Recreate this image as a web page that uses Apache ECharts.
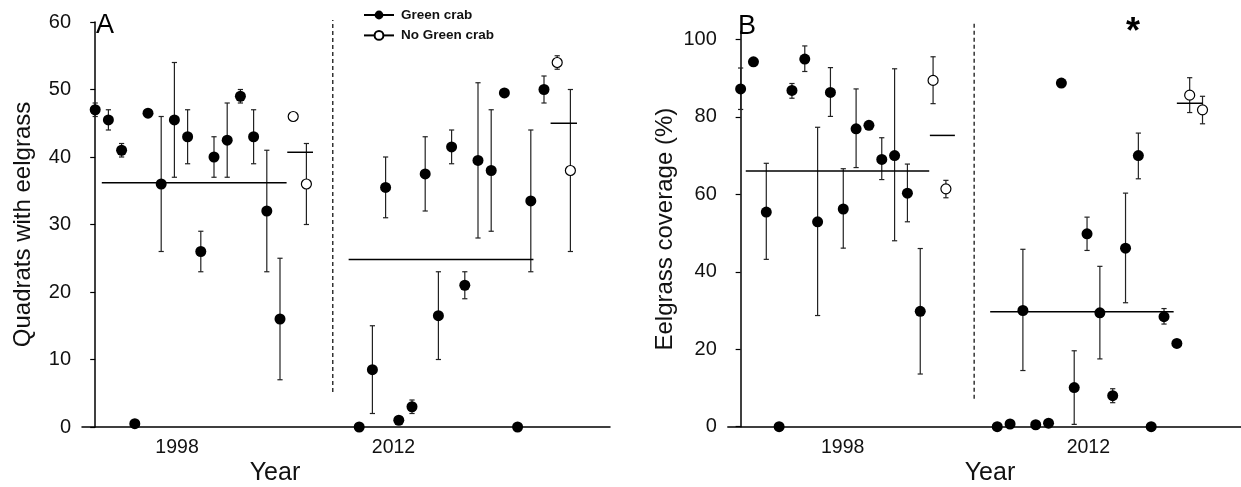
<!DOCTYPE html>
<html><head><meta charset="utf-8">
<script src="https://cdn.jsdelivr.net/npm/echarts@6/dist/echarts.min.js"></script>
<style>html,body{margin:0;padding:0;background:#fff}#c{width:1241px;height:487px}</style>
</head><body><div id="c"></div>
<script>
// ---------- DATA ----------
const years = ['1998', '2012'];
const seriesNames = ['Green crab', 'No Green crab'];

// Panel A: Quadrats with eelgrass
const A_1998_green    = [47, 45.5, 41, 0.5, 46.5, 36, 45.5, 43, 26, 40, 42.5, 49, 43, 32, 16];
const A_1998_green_lo = [46, 44, 40, null, null, 26, 37, 39, 23, 37, 37, 48, 39, 23, 7];
const A_1998_green_hi = [48, 47, 42, null, null, 46, 54, 47, 29, 43, 48, 50, 47, 41, 25];
const A_1998_open     = [46, 36];
const A_1998_open_lo  = [null, 30];
const A_1998_open_hi  = [null, 42];
const A_2012_green    = [0, 8.5, 35.5, 1, 3, 37.5, 16.5, 41.5, 21, 39.5, 38, 49.5, 0, 33.5, 50];
const A_2012_green_lo = [null, 2, 31, null, 2, 32, 10, 39, 19, 28, 29, null, null, 23, 48];
const A_2012_green_hi = [null, 15, 40, null, 4, 43, 23, 44, 23, 51, 47, null, null, 44, 52];
const A_2012_open     = [54, 38];
const A_2012_open_lo  = [53, 26];
const A_2012_open_hi  = [55, 50];
const A_means = [36.2, 40.7, 24.8, 45.0]; // 1998 green, 1998 no crab, 2012 green, 2012 no crab

// Panel B: Eelgrass coverage (%)
const B_1998_green    = [87.2, 94.2, 55.4, 0, 86.8, 94.9, 52.9, 86.3, 56.2, 76.9, 77.8, 69, 70, 60.3, 29.8];
const B_1998_green_lo = [81.9, null, 43.2, null, 84.8, 91.7, 28.7, 80.1, 46.1, 66.9, null, 63.8, 48, 52.9, 13.6];
const B_1998_green_hi = [92.6, null, 68, null, 88.6, 98.3, 77.3, 92.7, 66.6, 87.2, null, 74.6, 92.4, 67.8, 46];
const B_1998_open     = [89.4, 61.4];
const B_1998_open_lo  = [83.4, 59.1];
const B_1998_open_hi  = [95.5, 63.6];
const B_2012_green    = [0, 0.7, 30, 0.5, 0.9, 88.7, 10.1, 49.8, 29.4, 8, 46.1, 70, 0, 28.4, 21.5];
const B_2012_green_lo = [null, null, 14.5, null, null, null, 0.6, 45.5, 17.5, 6.2, 32, 64, null, 26.5, null];
const B_2012_green_hi = [null, null, 45.8, null, null, null, 19.6, 54.1, 41.4, 9.8, 60.3, 75.8, null, 30.5, null];
const B_2012_open     = [85.6, 81.8];
const B_2012_open_lo  = [81.1, 78.2];
const B_2012_open_hi  = [90.1, 85.3];
const B_means = [66.0, 75.2, 29.7, 83.5];

const yTicksA = [0, 10, 20, 30, 40, 50, 60];
const yTicksB = [0, 20, 40, 60, 80, 100];

// ---------- LAYOUT (site slots along x) ----------
const SLOT = {g1998: 0, o1998: 15, g2012: 20, o2012: 35};
const layoutA = {
  yearPos: [6.2, 22.6],
  meanSpan: [[0.5, 14.5], [14.55, 16.5], [19.2, 33.2], [34.5, 36.5]],
  divider: [18, 5.2, 60.3]
};
const layoutB = {
  yearPos: [7.95, 27.1],
  meanSpan: [[0.4, 14.7], [14.75, 16.7], [19.45, 33.75], [34.0, 36.0]],
  divider: [18.2, 7.2, 104.6]
};

const FONT = 'Liberation Sans, Arial, Helvetica, sans-serif';

function pts(vals, off) { return vals.map((v, i) => [off + i, v]); }
function errs(lo, hi, off) {
  const out = [];
  lo.forEach((l, i) => { if (l != null && hi[i] != null) out.push([off + i, l, hi[i]]); });
  return out;
}

function errRender(params, api) {
  const x = api.value(0);
  const p1 = api.coord([x, api.value(1)]);
  const p2 = api.coord([x, api.value(2)]);
  const w = 2.6;
  const st = {stroke: '#222', lineWidth: 1.2};
  return {type: 'group', children: [
    {type: 'line', shape: {x1: p1[0], y1: p1[1], x2: p2[0], y2: p2[1]}, style: st},
    {type: 'line', shape: {x1: p1[0] - w, y1: p1[1], x2: p1[0] + w, y2: p1[1]}, style: st},
    {type: 'line', shape: {x1: p2[0] - w, y1: p2[1], x2: p2[0] + w, y2: p2[1]}, style: st}
  ]};
}
function meanRender(params, api) {
  const a = api.coord([api.value(0), api.value(2)]);
  const b = api.coord([api.value(1), api.value(2)]);
  return {type: 'line', shape: {x1: a[0], y1: a[1], x2: b[0], y2: b[1]}, style: {stroke: '#000', lineWidth: 1.5}};
}
function divRender(params, api) {
  const a = api.coord([api.value(0), api.value(1)]);
  const b = api.coord([api.value(0), api.value(2)]);
  return {type: 'line', shape: {x1: a[0], y1: a[1], x2: b[0], y2: b[1]}, style: {stroke: '#000', lineWidth: 1.2, lineDash: [4, 3]}};
}

function panelSeries(gi, d, lay) {
  const means = d.means.map((m, k) => [lay.meanSpan[k][0], lay.meanSpan[k][1], m]);
  const errData = [].concat(
    errs(d.g98lo, d.g98hi, SLOT.g1998), errs(d.o98lo, d.o98hi, SLOT.o1998),
    errs(d.g12lo, d.g12hi, SLOT.g2012), errs(d.o12lo, d.o12hi, SLOT.o2012));
  return [
    {type: 'custom', xAxisIndex: gi, yAxisIndex: gi, renderItem: divRender, data: [lay.divider], z: 1, silent: true},
    {type: 'custom', xAxisIndex: gi, yAxisIndex: gi, renderItem: errRender, data: errData, z: 2, silent: true},
    {type: 'custom', xAxisIndex: gi, yAxisIndex: gi, renderItem: meanRender, data: means, z: 3, silent: true},
    {type: 'scatter', name: 'pts_g' + gi, xAxisIndex: gi, yAxisIndex: gi, clip: false, z: 4,
     symbol: 'circle', symbolSize: 11, itemStyle: {color: '#000', opacity: 1},
     data: pts(d.g98, SLOT.g1998).concat(pts(d.g12, SLOT.g2012))},
    {type: 'scatter', name: 'pts_o' + gi, xAxisIndex: gi, yAxisIndex: gi, clip: false, z: 4,
     symbol: 'circle', symbolSize: 10, itemStyle: {color: '#fff', borderColor: '#000', borderWidth: 1.2, opacity: 1},
     data: pts(d.o98, SLOT.o1998).concat(pts(d.o12, SLOT.o2012))}
  ];
}

const dataA = {g98: A_1998_green, g98lo: A_1998_green_lo, g98hi: A_1998_green_hi,
  o98: A_1998_open, o98lo: A_1998_open_lo, o98hi: A_1998_open_hi,
  g12: A_2012_green, g12lo: A_2012_green_lo, g12hi: A_2012_green_hi,
  o12: A_2012_open, o12lo: A_2012_open_lo, o12hi: A_2012_open_hi, means: A_means};
const dataB = {g98: B_1998_green, g98lo: B_1998_green_lo, g98hi: B_1998_green_hi,
  o98: B_1998_open, o98lo: B_1998_open_lo, o98hi: B_1998_open_hi,
  g12: B_2012_green, g12lo: B_2012_green_lo, g12hi: B_2012_green_hi,
  o12: B_2012_open, o12lo: B_2012_open_lo, o12hi: B_2012_open_hi, means: B_means};

function xAx(gi, lay) {
  return {type: 'value', gridIndex: gi, min: -1, max: 39,
    axisLine: {show: true, onZero: false, lineStyle: {color: '#000', width: 1.5}},
    axisTick: {show: false}, splitLine: {show: false},
    axisLabel: {customValues: lay.yearPos, color: '#111', fontSize: 19.5, fontFamily: FONT, margin: 11,
      formatter: v => { const k = lay.yearPos.indexOf(v); return k >= 0 ? years[k] : ''; }}};
}
function yAx(gi, max, ticks, name, gap) {
  return {type: 'value', gridIndex: gi, min: 0, max: max,
    name: name, nameLocation: 'middle', nameGap: gap,
    nameTextStyle: {fontSize: 24, fontFamily: FONT, color: '#111'},
    axisLine: {show: true, lineStyle: {color: '#000', width: 1.5}},
    axisTick: {show: true, length: 5, customValues: ticks, lineStyle: {color: '#000', width: 1.2}},
    splitLine: {show: false},
    axisLabel: {customValues: ticks, color: '#111', fontSize: 20, fontFamily: FONT, margin: 11}};
}

const option = {
  animation: false,
  backgroundColor: '#fff',
  grid: [
    {left: 82, width: 528, top: 22, height: 405},
    {left: 727.8, width: 516.4, top: 31.6, height: 395.1}
  ],
  xAxis: [xAx(0, layoutA), xAx(1, layoutB)],
  yAxis: [yAx(0, 60, yTicksA, 'Quadrats with eelgrass', 47), yAx(1, 102, yTicksB, 'Eelgrass coverage (%)', 50)],
  legend: {
    data: seriesNames, orient: 'vertical', left: 363, top: 8, padding: 0,
    itemWidth: 30, itemHeight: 11, itemGap: 6.4,
    textStyle: {fontFamily: FONT, fontSize: 13.5, fontWeight: 'bold', color: '#111', padding: [0, 0, 0, 2]},
    selectedMode: false
  },
  series: [
    {type: 'line', name: seriesNames[0], xAxisIndex: 0, yAxisIndex: 0, data: [], symbol: 'circle', symbolSize: 10,
     itemStyle: {color: '#000'}, lineStyle: {color: '#000', width: 1.2}},
    {type: 'line', name: seriesNames[1], xAxisIndex: 0, yAxisIndex: 0, data: [], symbol: 'circle', symbolSize: 10,
     itemStyle: {color: '#fff', borderColor: '#000', borderWidth: 1.2}, lineStyle: {color: '#000', width: 1.2}}
  ].concat(panelSeries(0, dataA, layoutA), panelSeries(1, dataB, layoutB)),
  graphic: [
    {type: 'text', left: 96, top: 12, style: {text: 'A', fontSize: 27, fontFamily: FONT, fill: '#000'}},
    {type: 'text', left: 738, top: 13, style: {text: 'B', fontSize: 27, fontFamily: FONT, fill: '#000'}},
    {type: 'text', left: 1126, top: 15, style: {text: '*', fontSize: 36, fontWeight: 'bold', fontFamily: FONT, fill: '#000'}},
    {type: 'text', x: 275, y: 473, style: {text: 'Year', fontSize: 25, fontFamily: FONT, fill: '#111', align: 'center', verticalAlign: 'middle'}},
    {type: 'text', x: 990, y: 473, style: {text: 'Year', fontSize: 25, fontFamily: FONT, fill: '#111', align: 'center', verticalAlign: 'middle'}}
  ]
};
const chart = echarts.init(document.getElementById('c'), null, {renderer: 'canvas'});
chart.setOption(option);
</script></body></html>
